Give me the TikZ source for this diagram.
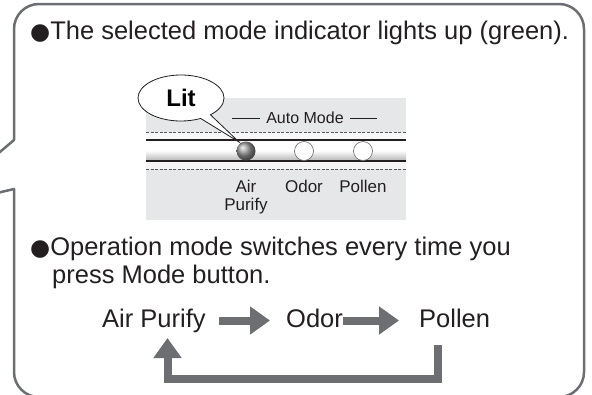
\documentclass[tikz,border=0pt]{standalone}
\usepackage{fontspec}
\setmainfont{Liberation Sans}
\newfontfamily\dejavu{DejaVu Sans}
\usetikzlibrary{arrows.meta,shapes.callouts}
\definecolor{framegray}{HTML}{6D6E71}
\definecolor{panelgray}{HTML}{E6E7E8}
\definecolor{ink}{HTML}{231F20}
\newcommand{\blob}{{\dejavu\fontsize{23}{23}\selectfont ●}}

\begin{document}
\begin{tikzpicture}[x=1pt, y=-1pt,
	frame/.style={draw=framegray, line width=2.5pt, line cap=round},
	bigtext/.style={anchor=base west, inner sep=0pt, text=ink, font=\fontsize{25.5}{30}\selectfont},
	flowtext/.style={bigtext, text height=18pt, text depth=5pt},
	flowarrow/.style={draw=framegray, line width=8pt, -{Triangle[length=20pt,width=27pt]}},
	paneltext/.style={anchor=base, inner sep=0pt, text=ink, align=center, font=\fontsize{17}{18}\selectfont},
	lamp/.style={draw=black!60, fill=white, line width=0.6pt},
	rail/.style={draw=black!65, line width=0.5pt, dash pattern=on 3pt off 1.5pt}]
	\useasboundingbox (0,0) rectangle (592,394);
	\clip (0,0) rectangle (592,394);
	% frame with the pointer to the left
	\draw[frame, rounded corners=25pt] (14,189) -- (14,397) -- (584,397) -- (584,4) -- (14,4) -- (14,140);
	\draw[frame] (14,140) -- (-20,169);
	\draw[frame] (14,189) -- (-20,197);
	\node[bigtext] (first) at (30,39) {\blob The selected mode indicator lights up (green).};
	% indicator panel
	\fill[panelgray] (146,98) rectangle (406,220);
	\fill[white!70!panelgray] (146,132) rectangle (406,140);
	\shade[top color=white, bottom color=black!30, middle color=white] (146,140) rectangle (406,161);
	\fill[white!60!panelgray] (146,161) rectangle (406,169);
	\draw[rail] (146,132) -- (406,132);
	\draw[rail] (146,169) -- (406,169);
	\draw[ink, line width=1.2pt] (146,140) -- (406,140);
	\draw[ink, line width=2pt] (146,161) -- (406,161);
	\node[paneltext, font=\fontsize{16}{18}\selectfont] (automode) at (305,123.5) {Auto Mode};
	\draw[ink, line width=1pt] (232,118) -- (260,118);
	\draw[ink, line width=1pt] (350,118) -- (377,118);
	\shade[ball color=gray!80] (246,151) circle (9.5pt);
	\draw[lamp] (304,151) circle (9.5pt);
	\draw[lamp] (363,151) circle (9.5pt);
	\node[paneltext] (airlabel) at (246,210) {Air\\Purify};
	\node[paneltext] (odorlabel) at (304,192) {Odor};
	\node[paneltext] (pollenlabel) at (363,192) {Pollen};
	\coordinate (litdot) at (239,142);
	\node[ellipse callout, draw=ink, fill=white, line width=0.8pt, minimum width=86pt, minimum height=46pt,
		inner sep=0pt, callout absolute pointer=(litdot), callout pointer arc=16,
		font=\bfseries\fontsize{24}{24}\selectfont] (lit) at (181,98) {Lit};
	% mode cycle
	\node[bigtext] (second) at (30,255) {\blob Operation mode switches every time you};
	\node[bigtext] (third) at (52,283) {press Mode button.};
	\node[flowtext] (air) at (102,327) {Air Purify};
	\node[flowtext] (odor) at (286,327) {Odor};
	\node[flowtext] (pollen) at (419,327) {Pollen};
	\draw[flowarrow, shorten <=13pt, shorten >=16pt] (air) -- (odor);
	\draw[flowarrow, shorten <=0pt, shorten >=20pt] (odor) -- (pollen);
	\coordinate (pollenleg) at (437.5,345);
	\coordinate (airleg) at (167.5,338);
	\draw[flowarrow] (pollenleg) -- (437.5,379) -| (airleg);
\end{tikzpicture}
\end{document}
